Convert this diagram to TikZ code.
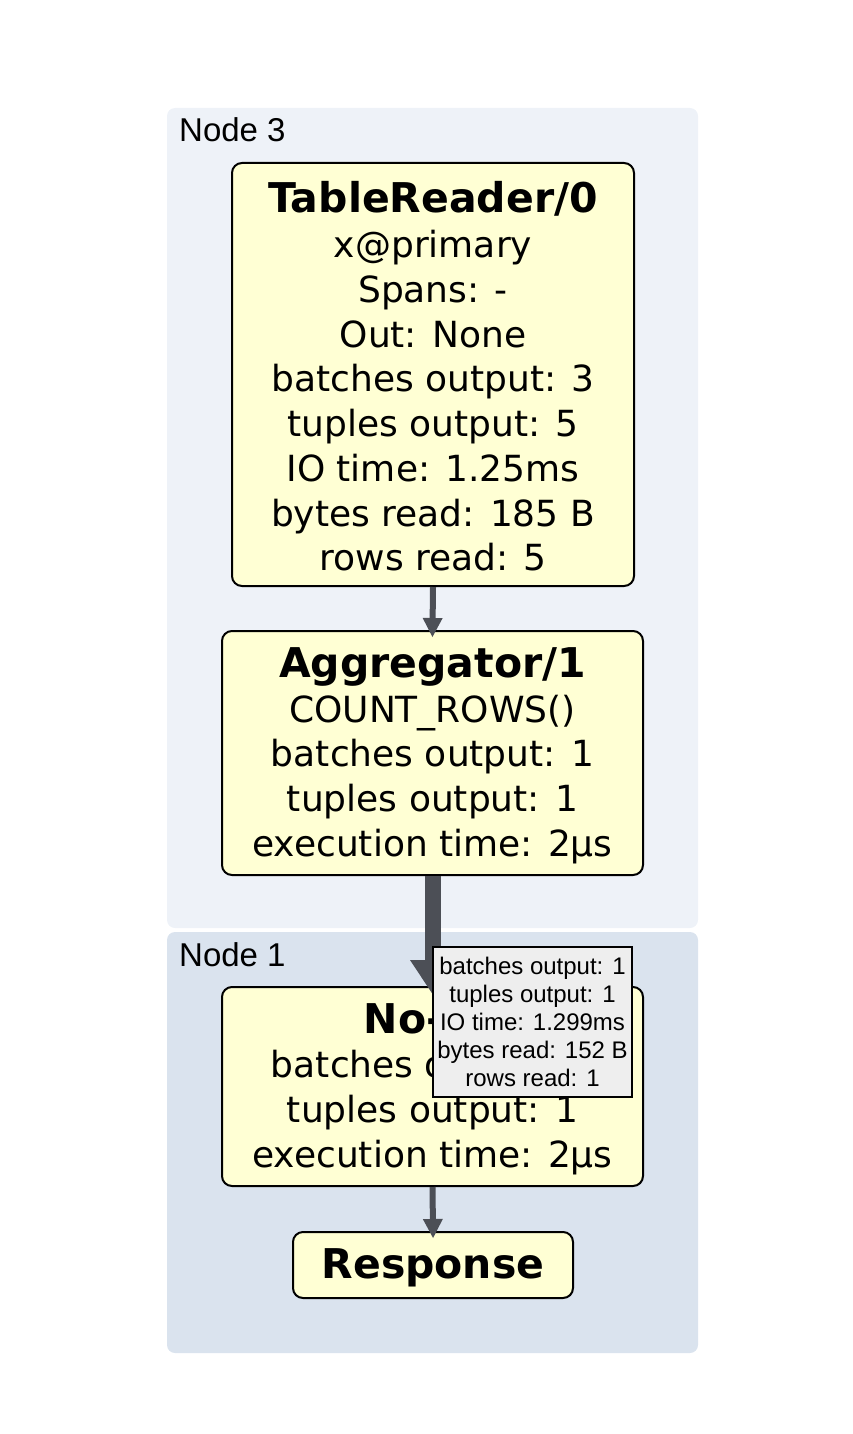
\documentclass[tikz,border=0pt]{standalone}
\usepackage{fontspec}
\usepackage{xcolor}
\setmainfont{DejaVu Sans}
\newfontfamily\lblfont{Liberation Sans}
\usetikzlibrary{arrows.meta}

\definecolor{clusterhi}{HTML}{EEF2F8}
\definecolor{clusterlo}{HTML}{DAE3EE}
\definecolor{opfill}{HTML}{FFFFD4}
\definecolor{edgegray}{HTML}{4C4F56}
\definecolor{tipfill}{HTML}{EEEEEE}
\newcommand{\optitle}{\bfseries\fontsize{41}{44.75}\selectfont\rule{0pt}{35pt}}

\begin{document}
\begin{tikzpicture}[x=1pt,y=-1pt]
	\tikzstyle{every node}+=[inner sep=0pt]
	\tikzstyle{opbox}=[draw=black, line width=2pt, fill=opfill, rounded corners=10pt, align=center, font=\fontsize{36}{44.75}\selectfont]
	\tikzstyle{cluster}=[rounded corners=8pt]
	\tikzstyle{clusterlbl}=[anchor=base west, font=\lblfont\fontsize{33}{40}\selectfont]
	\tikzstyle{flow}=[draw=edgegray, line width=6pt, shorten >=-7pt, -{Triangle[length=19pt,width=20pt,line width=0pt]}]
	\tikzstyle{heavyflow}=[draw=edgegray, line width=16pt, shorten >=-8pt, -{Triangle[length=34pt,width=45pt,line width=0pt]}]
	\tikzstyle{tipbox}=[draw=black, line width=2pt, fill=tipfill, align=center, font=\lblfont\fontsize{24}{27.8}\selectfont]

	\useasboundingbox (0,0) rectangle (852,1434);

	% clusters
	\fill [cluster, clusterhi] (167,108) rectangle (698,928);
	\node [clusterlbl] (lbl3) at (179,142) {Node 3};
	\fill [cluster, clusterlo] (167,932) rectangle (698,1353);
	\node [clusterlbl] (lbl1) at (179,966) {Node 1};

	% operators
	\node [opbox, minimum width=402pt, minimum height=423pt] (reader) at (433,374.5)
		{{\optitle TableReader/0}\\x@primary\\Spans: -\\Out: None\\batches output: 3\\tuples output: 5\\IO time: 1.25ms\\bytes read: 185 B\\rows read: 5};
	\node [opbox, minimum width=421pt, minimum height=244pt] (agg) at (432.5,753)
		{{\optitle Aggregator/1}\\COUNT\_ROWS()\\batches output: 1\\tuples output: 1\\execution time: 2µs};
	\node [opbox, minimum width=421pt, minimum height=199pt] (noop) at (432.5,1086.5)
		{{\optitle No-op}\\batches output: 1\\tuples output: 1\\execution time: 2µs};
	\node [opbox, minimum width=280pt, minimum height=66pt] (resp) at (433,1265)
		{{\optitle Response}};

	% edges
	\draw [flow] (reader.south) -- (agg.north);
	\draw [heavyflow] (agg.south) -- (noop.north);
	\draw [flow] (noop.south) -- (resp.north);

	\node [tipbox, minimum width=199pt, minimum height=150pt] (stats) at (532.5,1022)
		{batches output: 1\\tuples output: 1\\IO time: 1.299ms\\bytes read: 152 B\\rows read: 1};
\end{tikzpicture}
\end{document}
